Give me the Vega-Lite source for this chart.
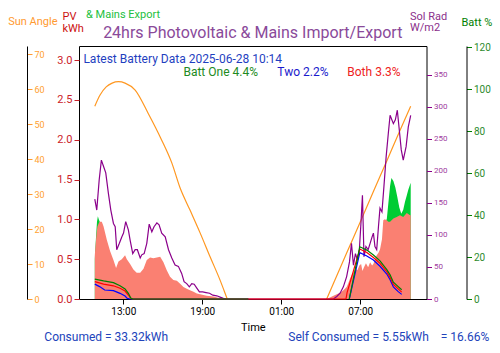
{
  "$schema": "https://vega.github.io/schema/vega-lite/v6.json",
  "width": 347.5,
  "height": 253,
  "autosize": {"type": "none"},
  "padding": {"left": 79, "top": 46, "right": 73.5, "bottom": 54},
  "config": {
    "font": "Roboto",
    "view": {"stroke": "black", "strokeWidth": 1},
    "axis": {"grid": false, "labelFont": "Roboto", "titleFont": "Roboto", "titleFontWeight": "normal", "domainColor": "black", "tickColor": "black", "labelColor": "black"}
  },
  "title": {"text": "24hrs Photovoltaic & Mains Import/Export", "fontSize": 16, "font": "Roboto", "fontWeight": "normal", "color": "#8a4a9a", "anchor": "middle", "frame": "group", "offset": 8, "dy": 40},
  "datasets": {
    "pv": [
      {"t": "2025-06-27T10:50", "v": 0.55}, {"t": "2025-06-27T10:53", "v": 0.66}, {"t": "2025-06-27T10:59", "v": 0.85}, {"t": "2025-06-27T11:02", "v": 0.91},
      {"t": "2025-06-27T11:11", "v": 0.97}, {"t": "2025-06-27T11:22", "v": 0.97}, {"t": "2025-06-27T11:30", "v": 0.91}, {"t": "2025-06-27T11:45", "v": 0.74},
      {"t": "2025-06-27T12:00", "v": 0.60}, {"t": "2025-06-27T12:15", "v": 0.49}, {"t": "2025-06-27T12:27", "v": 0.39}, {"t": "2025-06-27T12:38", "v": 0.47},
      {"t": "2025-06-27T12:53", "v": 0.50}, {"t": "2025-06-27T13:08", "v": 0.55}, {"t": "2025-06-27T13:16", "v": 0.50}, {"t": "2025-06-27T13:31", "v": 0.44},
      {"t": "2025-06-27T13:46", "v": 0.37}, {"t": "2025-06-27T14:01", "v": 0.33}, {"t": "2025-06-27T14:17", "v": 0.33}, {"t": "2025-06-27T14:32", "v": 0.38},
      {"t": "2025-06-27T14:47", "v": 0.49}, {"t": "2025-06-27T15:02", "v": 0.52}, {"t": "2025-06-27T15:17", "v": 0.51}, {"t": "2025-06-27T15:33", "v": 0.52},
      {"t": "2025-06-27T15:48", "v": 0.53}, {"t": "2025-06-27T16:03", "v": 0.46}, {"t": "2025-06-27T16:18", "v": 0.36}, {"t": "2025-06-27T16:33", "v": 0.28},
      {"t": "2025-06-27T16:48", "v": 0.24}, {"t": "2025-06-27T17:04", "v": 0.23}, {"t": "2025-06-27T17:19", "v": 0.19}, {"t": "2025-06-27T17:34", "v": 0.15},
      {"t": "2025-06-27T17:49", "v": 0.13}, {"t": "2025-06-27T18:04", "v": 0.11}, {"t": "2025-06-27T18:20", "v": 0.09}, {"t": "2025-06-27T18:35", "v": 0.07},
      {"t": "2025-06-27T18:50", "v": 0.06}, {"t": "2025-06-27T19:05", "v": 0.05}, {"t": "2025-06-27T19:20", "v": 0.04}, {"t": "2025-06-27T19:51", "v": 0.03},
      {"t": "2025-06-27T20:21", "v": 0.01}, {"t": "2025-06-27T20:52", "v": 0},
      {"t": "2025-06-28T04:27", "v": 0}, {"t": "2025-06-28T04:42", "v": 0.02}, {"t": "2025-06-28T04:58", "v": 0.04}, {"t": "2025-06-28T05:13", "v": 0.06},
      {"t": "2025-06-28T05:28", "v": 0.08}, {"t": "2025-06-28T05:43", "v": 0.11}, {"t": "2025-06-28T05:58", "v": 0.15}, {"t": "2025-06-28T06:06", "v": 0.2},
      {"t": "2025-06-28T06:14", "v": 0.26}, {"t": "2025-06-28T06:21", "v": 0.3}, {"t": "2025-06-28T06:29", "v": 0.34}, {"t": "2025-06-28T06:38", "v": 0.38},
      {"t": "2025-06-28T06:47", "v": 0.36}, {"t": "2025-06-28T06:56", "v": 0.42}, {"t": "2025-06-28T07:04", "v": 0.44}, {"t": "2025-06-28T07:10", "v": 0.35},
      {"t": "2025-06-28T07:17", "v": 0.40}, {"t": "2025-06-28T07:26", "v": 0.45}, {"t": "2025-06-28T07:36", "v": 0.40}, {"t": "2025-06-28T07:45", "v": 0.46},
      {"t": "2025-06-28T07:54", "v": 0.42}, {"t": "2025-06-28T08:00", "v": 0.44}, {"t": "2025-06-28T08:07", "v": 0.50}, {"t": "2025-06-28T08:15", "v": 0.55},
      {"t": "2025-06-28T08:23", "v": 0.58}, {"t": "2025-06-28T08:30", "v": 0.62}, {"t": "2025-06-28T08:39", "v": 0.75}, {"t": "2025-06-28T08:45", "v": 0.99},
      {"t": "2025-06-28T08:52", "v": 1.0}, {"t": "2025-06-28T09:01", "v": 0.99}, {"t": "2025-06-28T09:08", "v": 0.97}, {"t": "2025-06-28T09:16", "v": 0.97},
      {"t": "2025-06-28T09:31", "v": 1.01}, {"t": "2025-06-28T09:46", "v": 1.03}, {"t": "2025-06-28T10:01", "v": 1.05}, {"t": "2025-06-28T10:16", "v": 1.03},
      {"t": "2025-06-28T10:32", "v": 1.08}, {"t": "2025-06-28T10:47", "v": 1.05}, {"t": "2025-06-28T10:50", "v": 1.05}
    ],
    "exp": [
      {"t": "2025-06-27T10:50", "v": 0.5}, {"t": "2025-06-27T10:55", "v": 0.75}, {"t": "2025-06-27T11:00", "v": 0.97}, {"t": "2025-06-27T11:04", "v": 1.04},
      {"t": "2025-06-27T11:08", "v": 1.0}, {"t": "2025-06-27T11:14", "v": 0.96}, {"t": "2025-06-27T11:22", "v": 0.93}, {"t": "2025-06-27T11:30", "v": 0.85},
      {"t": "2025-06-27T11:35", "v": 0}, {"t": "2025-06-28T08:40", "v": 0}, {"t": "2025-06-28T08:45", "v": 0.95}, {"t": "2025-06-28T09:01", "v": 1.0},
      {"t": "2025-06-28T09:08", "v": 1.2}, {"t": "2025-06-28T09:16", "v": 1.42}, {"t": "2025-06-28T09:22", "v": 1.52}, {"t": "2025-06-28T09:31", "v": 1.48},
      {"t": "2025-06-28T09:40", "v": 1.40}, {"t": "2025-06-28T09:49", "v": 1.28}, {"t": "2025-06-28T09:58", "v": 1.15}, {"t": "2025-06-28T10:07", "v": 1.07},
      {"t": "2025-06-28T10:16", "v": 1.12}, {"t": "2025-06-28T10:24", "v": 1.22}, {"t": "2025-06-28T10:32", "v": 1.30}, {"t": "2025-06-28T10:39", "v": 1.37},
      {"t": "2025-06-28T10:50", "v": 1.46}
    ],
    "sun": [
      {"t": "2025-06-27T10:50", "v": 55.1}, {"t": "2025-06-27T11:14", "v": 58.3}, {"t": "2025-06-27T11:42", "v": 60.6}, {"t": "2025-06-27T12:09", "v": 61.7},
      {"t": "2025-06-27T12:38", "v": 62.1}, {"t": "2025-06-27T13:08", "v": 61.7}, {"t": "2025-06-27T13:54", "v": 59.7}, {"t": "2025-06-27T14:53", "v": 53.1},
      {"t": "2025-06-27T15:55", "v": 45.4}, {"t": "2025-06-27T16:41", "v": 38.9}, {"t": "2025-06-27T17:19", "v": 31.7}, {"t": "2025-06-27T18:04", "v": 25.4},
      {"t": "2025-06-27T18:50", "v": 18.9}, {"t": "2025-06-27T19:36", "v": 12.0}, {"t": "2025-06-27T20:21", "v": 5.4}, {"t": "2025-06-27T20:52", "v": 0.3},
      {"t": "2025-06-27T21:30", "v": -6}, {"t": "2025-06-27T23:00", "v": -13}, {"t": "2025-06-28T00:30", "v": -15}, {"t": "2025-06-28T02:30", "v": -12},
      {"t": "2025-06-28T04:00", "v": -3.9}, {"t": "2025-06-28T04:27", "v": 0}, {"t": "2025-06-28T06:00", "v": 13.4}, {"t": "2025-06-28T07:00", "v": 22.0},
      {"t": "2025-06-28T08:00", "v": 30.7}, {"t": "2025-06-28T09:00", "v": 39.3}, {"t": "2025-06-28T10:00", "v": 48.0}, {"t": "2025-06-28T10:50", "v": 55.1}
    ],
    "sol": [
      {"t": "2025-06-27T10:50", "v": 156}, {"t": "2025-06-27T10:59", "v": 139}, {"t": "2025-06-27T11:10", "v": 186}, {"t": "2025-06-27T11:20", "v": 217},
      {"t": "2025-06-27T11:30", "v": 207}, {"t": "2025-06-27T11:40", "v": 197}, {"t": "2025-06-27T11:52", "v": 165}, {"t": "2025-06-27T12:03", "v": 139},
      {"t": "2025-06-27T12:15", "v": 118}, {"t": "2025-06-27T12:23", "v": 113}, {"t": "2025-06-27T12:30", "v": 77}, {"t": "2025-06-27T12:42", "v": 87},
      {"t": "2025-06-27T12:53", "v": 97}, {"t": "2025-06-27T13:01", "v": 103}, {"t": "2025-06-27T13:11", "v": 121}, {"t": "2025-06-27T13:23", "v": 108},
      {"t": "2025-06-27T13:31", "v": 92}, {"t": "2025-06-27T13:43", "v": 71}, {"t": "2025-06-27T13:54", "v": 77}, {"t": "2025-06-27T14:04", "v": 77},
      {"t": "2025-06-27T14:17", "v": 64}, {"t": "2025-06-27T14:24", "v": 69}, {"t": "2025-06-27T14:35", "v": 71}, {"t": "2025-06-27T14:47", "v": 87},
      {"t": "2025-06-27T14:58", "v": 117}, {"t": "2025-06-27T15:10", "v": 105}, {"t": "2025-06-27T15:20", "v": 113}, {"t": "2025-06-27T15:33", "v": 119},
      {"t": "2025-06-27T15:43", "v": 116}, {"t": "2025-06-27T15:55", "v": 103}, {"t": "2025-06-27T16:11", "v": 97}, {"t": "2025-06-27T16:26", "v": 77},
      {"t": "2025-06-27T16:41", "v": 64}, {"t": "2025-06-27T16:56", "v": 53}, {"t": "2025-06-27T17:11", "v": 51}, {"t": "2025-06-27T17:26", "v": 40},
      {"t": "2025-06-27T17:37", "v": 27}, {"t": "2025-06-27T17:49", "v": 24}, {"t": "2025-06-27T18:01", "v": 19}, {"t": "2025-06-27T18:12", "v": 24},
      {"t": "2025-06-27T18:23", "v": 23}, {"t": "2025-06-27T18:35", "v": 17}, {"t": "2025-06-27T18:47", "v": 11}, {"t": "2025-06-27T19:02", "v": 11},
      {"t": "2025-06-27T19:17", "v": 10}, {"t": "2025-06-27T19:33", "v": 9}, {"t": "2025-06-27T19:48", "v": 6}, {"t": "2025-06-27T20:06", "v": 5},
      {"t": "2025-06-27T20:21", "v": 3}, {"t": "2025-06-27T20:36", "v": 1}, {"t": "2025-06-27T20:52", "v": 0},
      {"t": "2025-06-28T04:58", "v": 0}, {"t": "2025-06-28T05:13", "v": 4}, {"t": "2025-06-28T05:28", "v": 9}, {"t": "2025-06-28T05:43", "v": 19},
      {"t": "2025-06-28T05:58", "v": 35}, {"t": "2025-06-28T06:11", "v": 58}, {"t": "2025-06-28T06:20", "v": 87}, {"t": "2025-06-28T06:29", "v": 53},
      {"t": "2025-06-28T06:38", "v": 71}, {"t": "2025-06-28T06:47", "v": 61}, {"t": "2025-06-28T06:56", "v": 77}, {"t": "2025-06-28T07:04", "v": 123},
      {"t": "2025-06-28T07:10", "v": 162}, {"t": "2025-06-28T07:17", "v": 66}, {"t": "2025-06-28T07:26", "v": 82}, {"t": "2025-06-28T07:36", "v": 77},
      {"t": "2025-06-28T07:45", "v": 87}, {"t": "2025-06-28T07:54", "v": 97}, {"t": "2025-06-28T08:00", "v": 103}, {"t": "2025-06-28T08:07", "v": 82},
      {"t": "2025-06-28T08:15", "v": 77}, {"t": "2025-06-28T08:23", "v": 113}, {"t": "2025-06-28T08:30", "v": 142}, {"t": "2025-06-28T08:39", "v": 136},
      {"t": "2025-06-28T08:48", "v": 176}, {"t": "2025-06-28T08:58", "v": 222}, {"t": "2025-06-28T09:08", "v": 259}, {"t": "2025-06-28T09:16", "v": 287},
      {"t": "2025-06-28T09:31", "v": 274}, {"t": "2025-06-28T09:40", "v": 280}, {"t": "2025-06-28T09:49", "v": 295}, {"t": "2025-06-28T09:58", "v": 264},
      {"t": "2025-06-28T10:07", "v": 233}, {"t": "2025-06-28T10:16", "v": 217}, {"t": "2025-06-28T10:29", "v": 238}, {"t": "2025-06-28T10:39", "v": 269},
      {"t": "2025-06-28T10:50", "v": 287}
    ],
    "batt": [
      {"t": "2025-06-27T10:50", "s": "Two", "g": "a", "v": 7.1}, {"t": "2025-06-27T11:12", "s": "Two", "g": "a", "v": 5.9}, {"t": "2025-06-27T11:35", "s": "Two", "g": "a", "v": 4.3},
      {"t": "2025-06-27T12:15", "s": "Two", "g": "a", "v": 4.0}, {"t": "2025-06-27T12:45", "s": "Two", "g": "a", "v": 2.7}, {"t": "2025-06-27T13:08", "s": "Two", "g": "a", "v": 1.4},
      {"t": "2025-06-27T13:18", "s": "Two", "g": "a", "v": 0.3}, {"t": "2025-06-27T13:30", "s": "Two", "g": "a", "v": 0}, {"t": "2025-06-27T22:30", "s": "Two", "g": "a", "v": 0},
      {"t": "2025-06-28T06:10", "s": "Two", "g": "m", "v": 0}, {"t": "2025-06-28T06:58", "s": "Two", "g": "m", "v": 22.1}, {"t": "2025-06-28T07:30", "s": "Two", "g": "m", "v": 20.5},
      {"t": "2025-06-28T08:00", "s": "Two", "g": "m", "v": 18.6}, {"t": "2025-06-28T08:30", "s": "Two", "g": "m", "v": 15.6}, {"t": "2025-06-28T09:01", "s": "Two", "g": "m", "v": 11.9},
      {"t": "2025-06-28T09:16", "s": "Two", "g": "m", "v": 9.2}, {"t": "2025-06-28T09:31", "s": "Two", "g": "m", "v": 5.8}, {"t": "2025-06-28T09:53", "s": "Two", "g": "m", "v": 3.5},
      {"t": "2025-06-28T10:09", "s": "Two", "g": "m", "v": 2.2},
      {"t": "2025-06-27T10:50", "s": "Both", "g": "a", "v": 8.3}, {"t": "2025-06-27T11:30", "s": "Both", "g": "a", "v": 7.1}, {"t": "2025-06-27T12:15", "s": "Both", "g": "a", "v": 6.3},
      {"t": "2025-06-27T12:45", "s": "Both", "g": "a", "v": 5.1}, {"t": "2025-06-27T13:08", "s": "Both", "g": "a", "v": 3.8}, {"t": "2025-06-27T13:23", "s": "Both", "g": "a", "v": 1.9},
      {"t": "2025-06-27T13:34", "s": "Both", "g": "a", "v": 0.2}, {"t": "2025-06-27T13:43", "s": "Both", "g": "a", "v": 0}, {"t": "2025-06-28T05:55", "s": "Both", "g": "a", "v": 0},
      {"t": "2025-06-28T06:00", "s": "Both", "g": "a", "v": 3}, {"t": "2025-06-28T06:58", "s": "Both", "g": "a", "v": 23.8}, {"t": "2025-06-28T07:30", "s": "Both", "g": "a", "v": 22.2},
      {"t": "2025-06-28T08:00", "s": "Both", "g": "a", "v": 19.8}, {"t": "2025-06-28T08:30", "s": "Both", "g": "a", "v": 17.0}, {"t": "2025-06-28T09:01", "s": "Both", "g": "a", "v": 13.0},
      {"t": "2025-06-28T09:16", "s": "Both", "g": "a", "v": 10.3}, {"t": "2025-06-28T09:31", "s": "Both", "g": "a", "v": 7.0}, {"t": "2025-06-28T09:53", "s": "Both", "g": "a", "v": 4.8},
      {"t": "2025-06-28T10:09", "s": "Both", "g": "a", "v": 3.3},
      {"t": "2025-06-27T10:50", "s": "One", "g": "a", "v": 9.5}, {"t": "2025-06-27T11:30", "s": "One", "g": "a", "v": 8.6}, {"t": "2025-06-27T12:15", "s": "One", "g": "a", "v": 7.8},
      {"t": "2025-06-27T12:45", "s": "One", "g": "a", "v": 6.3}, {"t": "2025-06-27T13:08", "s": "One", "g": "a", "v": 4.8}, {"t": "2025-06-27T13:23", "s": "One", "g": "a", "v": 2.7},
      {"t": "2025-06-27T13:34", "s": "One", "g": "a", "v": 0.5}, {"t": "2025-06-27T13:43", "s": "One", "g": "a", "v": 0}, {"t": "2025-06-27T22:30", "s": "One", "g": "a", "v": 0},
      {"t": "2025-06-28T06:10", "s": "One", "g": "m", "v": 0}, {"t": "2025-06-28T06:58", "s": "One", "g": "m", "v": 24.9}, {"t": "2025-06-28T07:30", "s": "One", "g": "m", "v": 23.3},
      {"t": "2025-06-28T08:00", "s": "One", "g": "m", "v": 21.0}, {"t": "2025-06-28T08:30", "s": "One", "g": "m", "v": 18.2}, {"t": "2025-06-28T09:01", "s": "One", "g": "m", "v": 14.0},
      {"t": "2025-06-28T09:16", "s": "One", "g": "m", "v": 11.5}, {"t": "2025-06-28T09:31", "s": "One", "g": "m", "v": 8.0}, {"t": "2025-06-28T09:53", "s": "One", "g": "m", "v": 5.9},
      {"t": "2025-06-28T10:09", "s": "One", "g": "m", "v": 4.4}
    ]
  },
  "layer": [
    {
      "layer": [
        {
          "data": {"name": "exp"},
          "mark": {"type": "area", "color": "#00cc33", "opacity": 1},
          "encoding": {
            "x": {"field": "t", "type": "temporal",
              "scale": {"domain": [{"year": 2025, "month": 6, "date": 27, "hours": 9, "minutes": 38}, {"year": 2025, "month": 6, "date": 28, "hours": 12, "minutes": 2}]},
              "axis": {"values": [{"year": 2025, "month": 6, "date": 27, "hours": 13}, {"year": 2025, "month": 6, "date": 27, "hours": 19}, {"year": 2025, "month": 6, "date": 28, "hours": 1}, {"year": 2025, "month": 6, "date": 28, "hours": 7}],
                "format": "%H:%M", "labelFontSize": 10, "tickSize": 5, "domain": false, "title": "Time", "titleFontSize": 11, "titlePadding": 5}},
            "y": {"field": "v", "type": "quantitative", "scale": {"domain": [0, 3.176], "nice": false, "zero": false},
              "axis": {"orient": "left", "values": [0, 0.5, 1, 1.5, 2, 2.5, 3], "format": ".1f", "labelColor": "#cc2229", "tickColor": "#cc2229", "labelFontSize": 11, "tickSize": 5, "domain": false,
                "title": ["PV", "kWh"], "titleColor": "#cc1111", "titleFontSize": 11, "titleAngle": 0, "titleAlign": "left", "titleBaseline": "alphabetic", "titleX": -17, "titleY": -27, "titleLineHeight": 12}}
          }
        },
        {
          "data": {"name": "pv"},
          "mark": {"type": "area", "color": "#fa8072", "opacity": 1},
          "encoding": {"x": {"field": "t", "type": "temporal"}, "y": {"field": "v", "type": "quantitative"}}
        },
        {
          "data": {"values": [{}]},
          "mark": {"type": "text", "text": "Latest Battery Data 2025-06-28 10:14", "align": "left", "baseline": "alphabetic", "fontSize": 12, "color": "#1f3fbf"},
          "encoding": {"x": {"datum": {"year": 2025, "month": 6, "date": 27, "hours": 9, "minutes": 58}, "type": "temporal"}, "y": {"datum": 2.962, "type": "quantitative"}}
        },
        {
          "data": {"values": [{}]},
          "mark": {"type": "text", "text": "Batt One 4.4%", "align": "left", "baseline": "alphabetic", "fontSize": 12, "color": "#218a21"},
          "encoding": {"x": {"datum": {"year": 2025, "month": 6, "date": 27, "hours": 17, "minutes": 34}, "type": "temporal"}, "y": {"datum": 2.803, "type": "quantitative"}}
        },
        {
          "data": {"values": [{}]},
          "mark": {"type": "text", "text": "Two 2.2%", "align": "left", "baseline": "alphabetic", "fontSize": 12, "color": "#1a1acc"},
          "encoding": {"x": {"datum": {"year": 2025, "month": 6, "date": 28, "hours": 0, "minutes": 42}, "type": "temporal"}, "y": {"datum": 2.803, "type": "quantitative"}}
        },
        {
          "data": {"values": [{}]},
          "mark": {"type": "text", "text": "Both 3.3%", "align": "left", "baseline": "alphabetic", "fontSize": 12, "color": "#ee2222"},
          "encoding": {"x": {"datum": {"year": 2025, "month": 6, "date": 28, "hours": 6, "minutes": 1}, "type": "temporal"}, "y": {"datum": 2.803, "type": "quantitative"}}
        },
        {
          "data": {"values": [{}]},
          "mark": {"type": "text", "text": "& Mains Export", "align": "left", "baseline": "alphabetic", "fontSize": 11, "color": "#22c040"},
          "encoding": {"x": {"datum": {"year": 2025, "month": 6, "date": 27, "hours": 10, "minutes": 10}, "type": "temporal"}, "y": {"datum": 3.523, "type": "quantitative"}}
        },
        {
          "data": {"values": [{}]},
          "mark": {"type": "text", "text": "Consumed = 33.32kWh", "align": "left", "baseline": "alphabetic", "fontSize": 12, "color": "#2244bb"},
          "encoding": {"x": {"datum": {"year": 2025, "month": 6, "date": 27, "hours": 7, "minutes": 0}, "type": "temporal"}, "y": {"datum": -0.527, "type": "quantitative"}}
        },
        {
          "data": {"values": [{}]},
          "mark": {"type": "text", "text": "Self Consumed = 5.55kWh\u00a0\u00a0\u00a0 = 16.66%", "align": "left", "baseline": "alphabetic", "fontSize": 12, "color": "#2244bb"},
          "encoding": {"x": {"datum": {"year": 2025, "month": 6, "date": 28, "hours": 1, "minutes": 32}, "type": "temporal"}, "y": {"datum": -0.527, "type": "quantitative"}}
        }
      ]
    },
    {
      "data": {"name": "sun"},
      "mark": {"type": "line", "color": "#ff9720", "strokeWidth": 1.2, "clip": true, "interpolate": "monotone"},
      "encoding": {
        "x": {"field": "t", "type": "temporal"},
        "y": {"field": "v", "type": "quantitative", "scale": {"domain": [0, 72.3], "nice": false, "zero": false},
          "axis": {"orient": "right", "offset": -399.5, "values": [0, 10, 20, 30, 40, 50, 60, 70], "labelColor": "#ffa030", "tickColor": "#ff9a30", "labelFontSize": 9, "tickSize": 5, "domain": true, "domainColor": "black",
            "title": "Sun Angle", "titleColor": "#ff9a30", "titleFontSize": 11, "titleAngle": 0, "titleAlign": "right", "titleBaseline": "alphabetic", "titleX": 30, "titleY": -21.3}}
      }
    },
    {
      "data": {"name": "sol"},
      "mark": {"type": "line", "color": "#8b008b", "strokeWidth": 1.2},
      "encoding": {
        "x": {"field": "t", "type": "temporal"},
        "y": {"field": "v", "type": "quantitative", "scale": {"domain": [0, 395.3], "nice": false, "zero": false},
          "axis": {"orient": "right", "offset": 0, "values": [0, 50, 100, 150, 200, 250, 300, 350], "labelColor": "#a040a0", "tickColor": "#8b008b", "labelFontSize": 8, "tickSize": 5, "domain": false,
            "title": ["Sol Rad", "W/m2"], "titleColor": "#8b2f8b", "titleFontSize": 11, "titleAngle": 0, "titleAlign": "left", "titleBaseline": "alphabetic", "titleX": -17, "titleY": -26.7, "titleLineHeight": 11}}
      }
    },
    {
      "data": {"name": "batt"},
      "mark": {"type": "line", "strokeWidth": 1.2},
      "encoding": {
        "x": {"field": "t", "type": "temporal"},
        "y": {"field": "v", "type": "quantitative", "scale": {"domain": [0, 120.6], "nice": false, "zero": false},
          "axis": {"orient": "right", "offset": 40, "values": [0, 20, 40, 60, 80, 100, 120], "labelColor": "#2e8b2e", "tickColor": "#008000", "labelFontSize": 10, "tickSize": 5, "domain": true, "domainColor": "black",
            "title": "Batt %", "titleColor": "#008000", "titleFontSize": 11, "titleAngle": 0, "titleAlign": "left", "titleBaseline": "alphabetic", "titleX": -5.5, "titleY": -21}},
        "color": {"field": "s", "type": "nominal", "scale": {"domain": ["Two", "Both", "One"], "range": ["#0000ff", "#ff0000", "#008000"]}, "legend": null},
        "detail": {"field": "g", "type": "nominal"}
      }
    }
  ],
  "resolve": {"scale": {"y": "independent"}, "axis": {"y": "independent"}}
}
